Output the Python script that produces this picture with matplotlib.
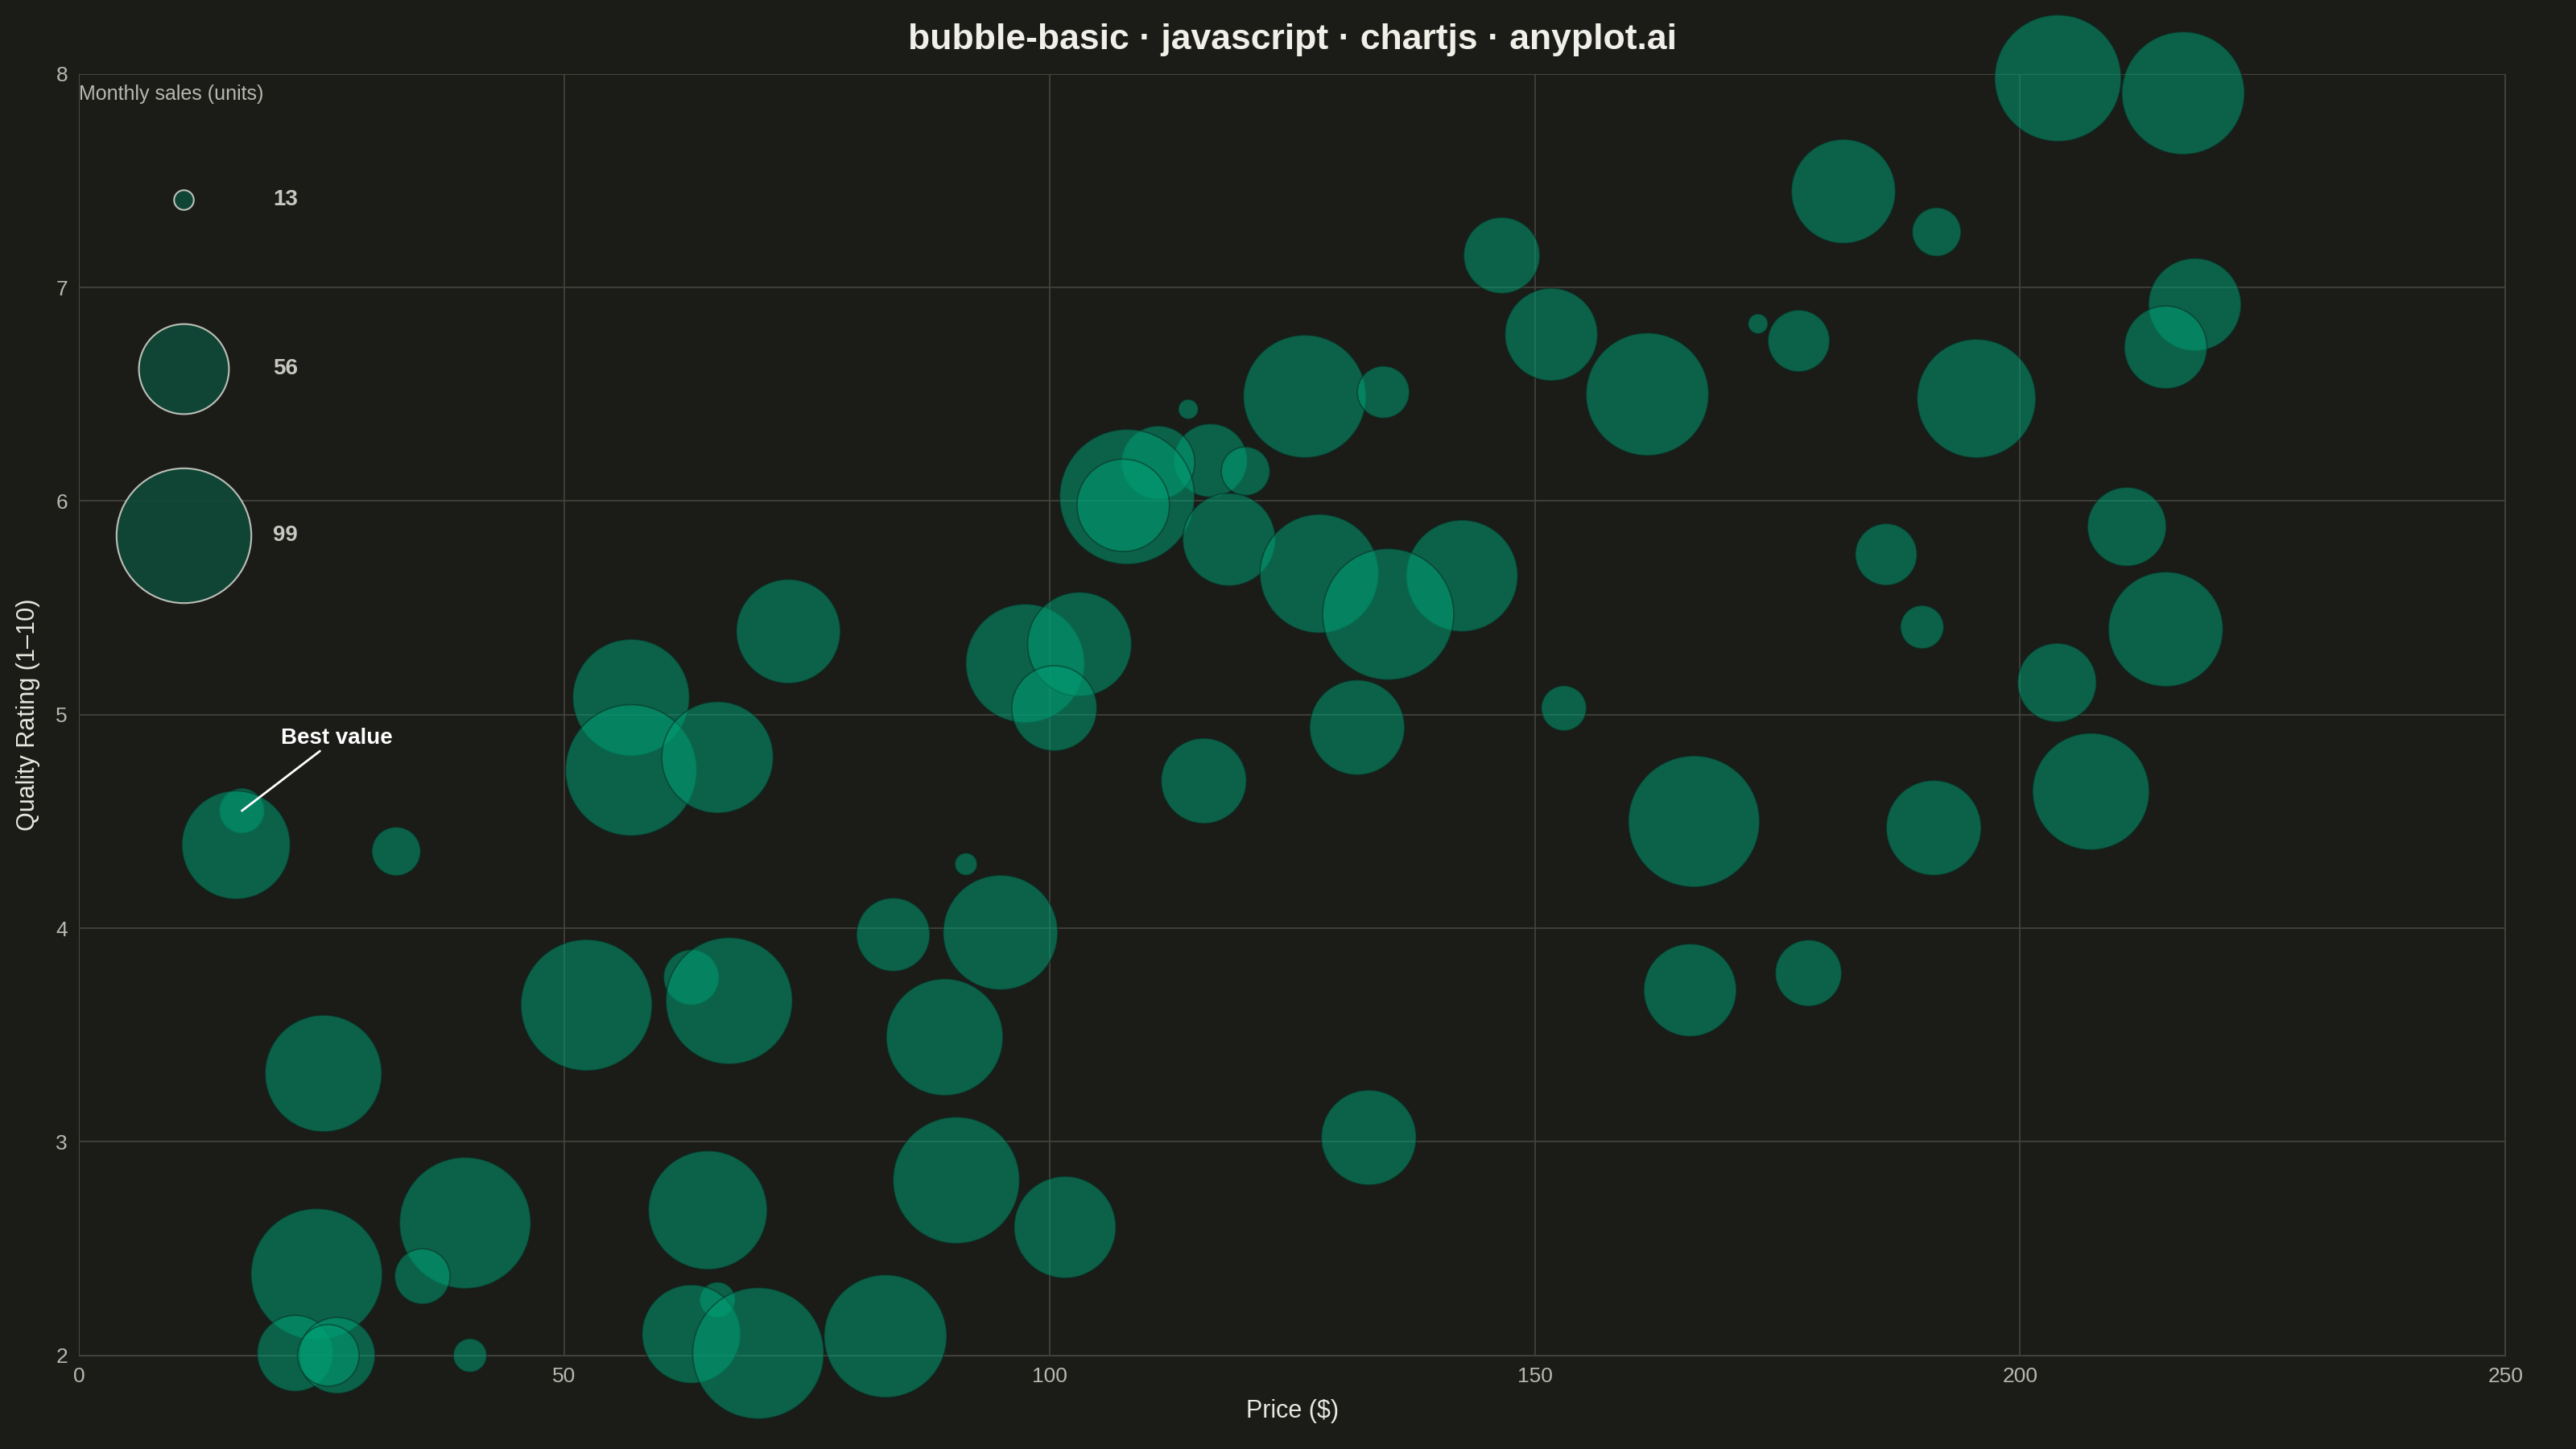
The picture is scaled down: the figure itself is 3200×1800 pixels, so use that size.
import matplotlib.pyplot as plt
import numpy as np

plt.rcParams['font.family'] = ['Liberation Sans', 'DejaVu Sans']

# price ($), quality rating, monthly sales (units)
price = [203.9, 216.8, 181.8, 191.4, 146.6, 218.0, 151.7, 173.0, 177.2, 215.0,
         161.6, 126.3, 134.4, 195.5, 114.3, 116.6, 111.2, 120.2, 108.0, 107.6,
         118.5, 211.0, 186.2, 127.8, 142.5, 134.9, 189.9, 215.0, 73.1, 97.5,
         103.1, 100.5, 56.9, 153.0, 203.8, 131.7, 56.9, 65.8, 115.9, 207.3,
         166.4, 191.1, 16.8, 16.2, 32.7, 91.4, 83.9, 94.95, 166.0, 178.2,
         63.1, 67.0, 52.3, 89.2, 25.2, 132.9, 90.4, 64.8, 39.8, 101.6,
         24.5, 35.4, 65.8, 63.1, 83.1, 70.0, 22.3, 26.6, 25.7, 40.3]
rating = [7.98, 7.91, 7.45, 7.26, 7.15, 6.92, 6.78, 6.83, 6.75, 6.72,
          6.50, 6.49, 6.51, 6.48, 6.43, 6.19, 6.18, 6.14, 6.02, 5.98,
          5.82, 5.88, 5.75, 5.66, 5.65, 5.47, 5.41, 5.40, 5.39, 5.24,
          5.33, 5.03, 5.08, 5.03, 5.15, 4.94, 4.74, 4.80, 4.69, 4.64,
          4.50, 4.47, 4.55, 4.39, 4.36, 4.30, 3.97, 3.98, 3.71, 3.79,
          3.77, 3.66, 3.64, 3.49, 3.32, 3.02, 2.82, 2.68, 2.62, 2.60,
          2.38, 2.37, 2.26, 2.10, 2.09, 2.01, 2.01, 2.00, 2.00, 2.00]
sales = [90, 86, 68, 27, 45, 58, 58, 13, 35, 50,
         86, 86, 29, 82, 13, 43, 43, 27, 99, 58,
         58, 47, 35, 82, 75, 95, 24, 78, 68, 82,
         68, 52, 80, 25, 47, 60, 95, 75, 52, 80,
         95, 60, 25, 72, 27, 14, 43, 78, 58, 38,
         31, 90, 95, 80, 80, 60, 90, 82, 95, 66,
         95, 31, 20, 63, 86, 95, 45, 45, 35, 19]
legend_vals = [13, 56, 99]

bg = '#1b1b18'
green = '#009E73'


def bubble_size(v):
    # radius grows with sqrt of sales, converted to scatter area (pt^2)
    r_px = 6 + 5.52 * (np.sqrt(np.asarray(v, float)) - np.sqrt(13))
    r_pt = r_px * (3200 / 1568) * 0.72
    return (2 * r_pt) ** 2


fig = plt.figure(figsize=(32, 18), dpi=100, facecolor=bg)
ax = fig.add_axes([0.0306, 0.0646, 0.942, 0.8844], facecolor=bg)

ax.scatter(price, rating, s=bubble_size(sales), color=green, alpha=0.55,
           edgecolors='#0a2a20', linewidths=1.2, zorder=3, clip_on=False)

ax.set_xlim(0, 250)
ax.set_ylim(2, 8)
ax.set_xticks(range(0, 251, 50))
ax.set_yticks(range(2, 9))
ax.grid(color='#44443f', linewidth=1.2, zorder=0)
for sp in ax.spines.values():
    sp.set_color('#44443f')
ax.tick_params(colors='#b8b8b0', labelsize=19, length=0, pad=10)

ax.set_xlabel('Price ($)', color='#e8e8e0', fontsize=22, labelpad=12)
ax.set_ylabel('Quality Rating (1–10)', color='#e8e8e0', fontsize=22, labelpad=14)
ax.set_title('bubble-basic · javascript · chartjs · anyplot.ai', color='#f0f0e8',
             fontsize=32, fontweight='bold', pad=22)

# size legend
ax.text(0.0, 7.95, 'Monthly sales (units)', color='#b8b8b0', fontsize=18,
        va='top', ha='left', zorder=5)
for v, y in zip(legend_vals, [7.41, 6.62, 5.84]):
    ax.scatter([10.8], [y], s=bubble_size([v]), color='#0f4a39', alpha=0.9,
               edgecolors='#d0d0c8', linewidths=1.5, zorder=5)
    ax.text(20.0, y, str(v), color='#c8c8c0', fontsize=20, fontweight='bold',
            va='center', ha='left', zorder=5)

ax.annotate('Best value', xy=(16.8, 4.55), xytext=(20.8, 4.84),
            color='white', fontsize=20, fontweight='bold', va='bottom',
            arrowprops=dict(arrowstyle='-', color='white', lw=2,
                            shrinkA=0, shrinkB=0))

fig.savefig('out.png', dpi=100, facecolor=bg)
